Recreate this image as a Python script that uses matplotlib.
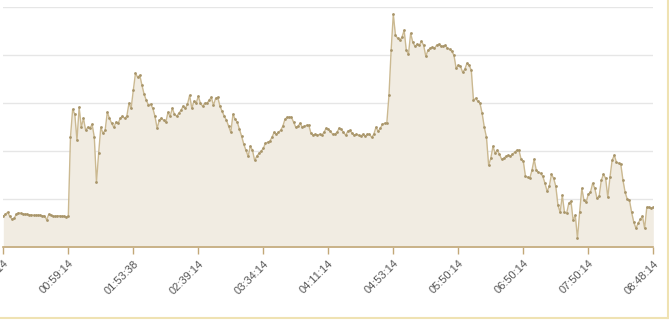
import matplotlib
matplotlib.use("Agg")
import matplotlib.pyplot as plt
from matplotlib.lines import Line2D
import numpy as np

plt.rcParams['font.family'] = ['Liberation Sans', 'DejaVu Sans']

# values (10 segments of 30 samples + final point)
seg0 = [31, 33, 35, 31, 28, 29, 33, 34.5, 34, 33.5, 33, 33, 32.5, 32.5, 32,
        32, 32, 32, 31.5, 31.5, 27.5, 33, 32, 31, 31, 31.5, 31.5, 31, 31, 30.5]
seg1 = [31, 110, 138, 133, 107, 140, 120, 129, 117, 120, 119, 123, 110, 65, 94,
        120, 114, 117, 135, 129, 124, 120, 125, 124, 129, 131, 129, 131, 144, 139]
seg2 = [157, 174, 170, 172, 162, 153, 147, 142, 143, 139, 131, 119, 127, 129, 127,
        125, 135, 131, 139, 133, 131, 134, 137, 141, 139, 143, 152, 139, 146, 144]
seg3 = [151, 144, 141, 144, 144, 147, 150, 142, 149, 150, 141, 136, 131, 127, 121,
        115, 133, 128, 125, 118, 111, 103, 97, 91, 101, 97, 87, 91, 94, 96]
seg4 = [99, 104, 105, 106, 110, 115, 113, 115, 117, 121, 128, 130, 130, 130, 125,
        120, 121, 124, 120, 121, 122, 122, 114, 112, 113, 112, 113, 112, 115, 119]
seg5 = [118, 116, 113, 113, 115, 119, 118, 115, 112, 116, 117, 114, 112, 113, 112,
        111, 113, 111, 113, 113, 110, 113, 120, 116, 119, 123, 124, 124, 152, 197]
seg6 = [233, 212, 209, 207, 210, 217, 197, 193, 214, 205, 201, 203, 202, 206, 202,
        191, 197, 199, 200, 199, 202, 203, 201, 201, 202, 199, 198, 196, 192, 179]
seg7 = [182, 181, 175, 178, 184, 182, 177, 147, 149, 146, 144, 134, 120, 110, 82,
        89, 101, 94, 97, 93, 88, 89, 91, 92, 91, 93, 95, 97, 97, 88]
seg8 = [86, 71, 70, 69, 77, 88, 77, 75, 74, 71, 64, 56, 61, 73, 69,
        61, 42, 35, 52, 35, 34, 44, 46, 27, 32, 9, 35, 59, 47, 45]
seg9 = [53, 55, 64, 59, 49, 51, 67, 73, 69, 50, 70, 87, 92, 85, 84,
        83, 67, 55, 48, 47, 35, 25, 19, 24, 28, 31, 19, 40, 40, 39, 40]

values = seg0 + seg1 + seg2 + seg3 + seg4 + seg5 + seg6 + seg7 + seg8 + seg9
tick_labels = ['00:00:14', '00:59:14', '01:53:38', '02:39:14', '03:34:14', '04:11:14',
               '04:53:14', '05:50:14', '06:50:14', '07:50:14', '08:48:14']

x = np.arange(len(values))

fig = plt.figure(figsize=(6.69, 3.2), dpi=100)
ax = fig.add_axes([3.3 / 669, 1 - 247.3 / 320, 650 / 669, 240 / 320])

ax.fill_between(x, values, 0, color='#f1ece2', linewidth=0, zorder=1)
ax.plot(x, values, color='#cbb991', linewidth=1.0, marker='o', markersize=2.0,
        markerfacecolor='#a8956a', markeredgewidth=0, zorder=3)

ax.set_xlim(0, len(values) - 1)
ax.set_ylim(0, 240)
ax.set_yticks(np.arange(0, 241, 48))
ax.yaxis.grid(True, color='#e6e6e6', linewidth=1, zorder=0)
ax.tick_params(axis='y', left=False, labelleft=False)

ax.set_xticks(np.arange(0, len(values), 30))
ax.set_xticklabels(tick_labels, rotation=45, ha='right', va='top',
                   rotation_mode='anchor', fontsize=8, color='#555555')
ax.tick_params(axis='x', color='#c2a878', length=5, width=1, pad=3)

for s in ['top', 'right', 'left']:
    ax.spines[s].set_visible(False)
ax.spines['bottom'].set_color('#c2a878')
ax.spines['bottom'].set_linewidth(1.2)
ax.set_axisbelow(True)

# light frame along right and bottom edges
fig.add_artist(Line2D([667.5 / 669, 667.5 / 669], [2.5 / 320, 1], color='#efe2b2',
                      linewidth=1.5, transform=fig.transFigure))
fig.add_artist(Line2D([0, 667.5 / 669], [2.5 / 320, 2.5 / 320], color='#efe2b2',
                      linewidth=1.5, transform=fig.transFigure))

fig.savefig('out.png', dpi=100)
